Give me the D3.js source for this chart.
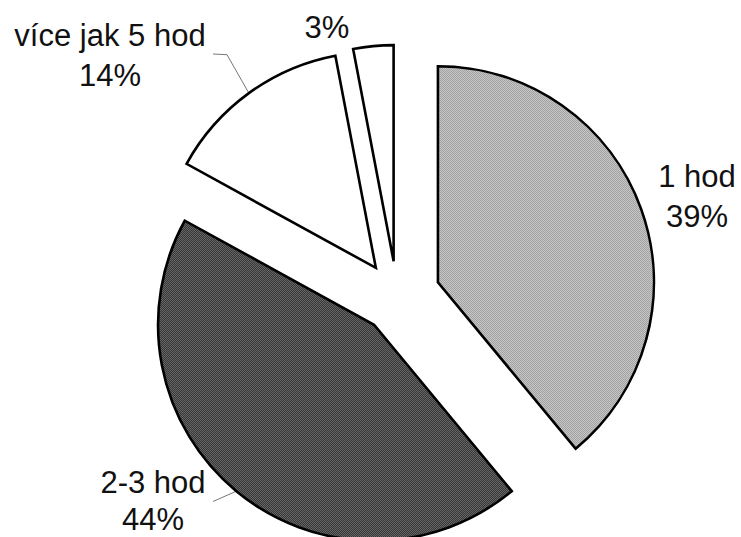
<!DOCTYPE html>
<html>
<head>
<meta charset="utf-8">
<script src="https://cdn.jsdelivr.net/npm/d3@7"></script>
<style>
  html, body { margin: 0; padding: 0; background: #fff; }
  svg { display: block; }
  text { font-family: "Liberation Sans", Arial, sans-serif; font-size: 31px; fill: #111; }
</style>
</head>
<body>
<svg id="chart" width="741" height="537"></svg>
<script>
// Data
const categories = ["1 hod", "2-3 hod", "více jak 5 hod", ""];
const values = [39, 44, 14, 3];
const percentLabels = ["39%", "44%", "14%", "3%"];

// Layout / style
const W = 741, H = 537;
const cx = 397, cy = 297, R = 216;
const explode = [43.5, 36, 36, 36];
const fills = ["url(#pLight)", "url(#pDark)", "#ffffff", "#ffffff"];
// label anchor (center x, first baseline y, line gap) and leader line start
const labelPos = [
  { x: 697, y: 187, gap: 40, leader: null },
  { x: 153, y: 493, gap: 37, leader: [213, 501.5] },
  { x: 110, y: 46, gap: 40, leader: [213, 54] },
  { x: 327, y: 38, gap: 0, leader: null }
];

const svg = d3.select("#chart");
const defs = svg.append("defs");

function checker(id, bg, fg) {
  const p = defs.append("pattern").attr("id", id)
    .attr("width", 2).attr("height", 2).attr("patternUnits", "userSpaceOnUse");
  p.append("rect").attr("width", 2).attr("height", 2).attr("fill", bg);
  p.append("rect").attr("x", 0).attr("y", 0).attr("width", 1).attr("height", 1).attr("fill", fg);
  p.append("rect").attr("x", 1).attr("y", 1).attr("width", 1).attr("height", 1).attr("fill", fg);
}
checker("pLight", "#e0e0e0", "#888888");
checker("pDark", "#858585", "#181818");

const pie = d3.pie().sort(null).value(d => d);
const arcs = pie(values);
const arc = d3.arc().innerRadius(0).outerRadius(R);

function offset(d, i) {
  const m = (d.startAngle + d.endAngle) / 2;
  return [cx + explode[i] * Math.sin(m), cy - explode[i] * Math.cos(m)];
}

// leader lines (drawn under slices)
const leaders = svg.append("g");
arcs.forEach((d, i) => {
  const lp = labelPos[i];
  if (!lp.leader) return;
  const [ox, oy] = offset(d, i);
  const m = (d.startAngle + d.endAngle) / 2;
  const ex = ox + R * Math.sin(m), ey = oy - R * Math.cos(m);
  const midx = lp.leader[0] + (i === 2 ? 14 : 0);
  const midy = lp.leader[1] + (i === 2 ? 0.7 : 0);
  leaders.append("path")
    .attr("d", i === 2
      ? `M${lp.leader[0]},${lp.leader[1]}L${midx},${midy}L${ex},${ey}`
      : `M${lp.leader[0]},${lp.leader[1]}L${ex},${ey}`)
    .attr("fill", "none").attr("stroke", "#777").attr("stroke-width", 1);
});

svg.append("g").selectAll("path")
  .data(arcs)
  .join("path")
  .attr("transform", (d, i) => `translate(${offset(d, i)})`)
  .attr("d", arc)
  .attr("fill", (d, i) => fills[i])
  .attr("stroke", "#000")
  .attr("stroke-width", 2.6)
  .attr("stroke-linejoin", "miter");

// labels
const lg = svg.append("g");
arcs.forEach((d, i) => {
  const lp = labelPos[i];
  const t = lg.append("text").attr("text-anchor", "middle");
  if (categories[i]) {
    t.append("tspan").attr("x", lp.x).attr("y", lp.y).text(categories[i]);
    t.append("tspan").attr("x", lp.x).attr("y", lp.y + lp.gap).text(percentLabels[i]);
  } else {
    t.append("tspan").attr("x", lp.x).attr("y", lp.y).text(percentLabels[i]);
  }
});
</script>
</body>
</html>
